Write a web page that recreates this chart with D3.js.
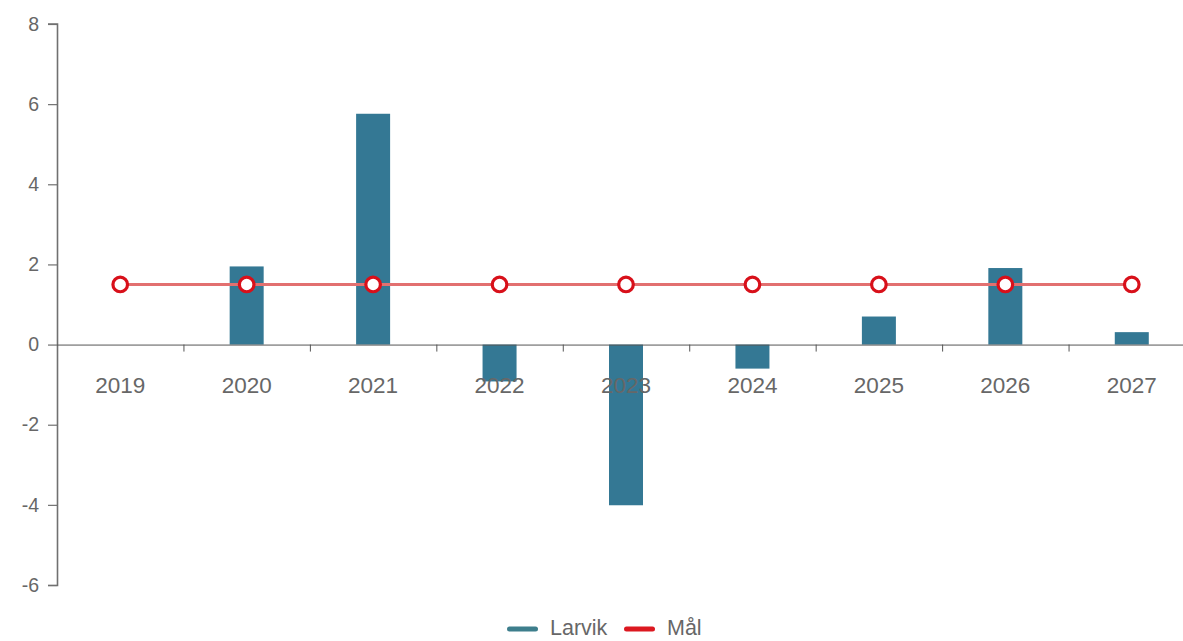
<!DOCTYPE html>
<html><head><meta charset="utf-8">
<script src="https://cdn.jsdelivr.net/npm/d3@7"></script>
<style>body{margin:0;background:#fff;font-family:"Liberation Sans",Arial,sans-serif;}</style>
</head><body><svg id="c" width="1183" height="641"></svg>
<script>
const years = ["2019","2020","2021","2022","2023","2024","2025","2026","2027"];
const larvik = [null,1.95,5.76,-0.92,-4.01,-0.6,0.7,1.91,0.31];
const maal = [1.5,1.5,1.5,1.5,1.5,1.5,1.5,1.5,1.5];
const yTicks = [-6,-4,-2,0,2,4,6,8];
const legendNames = ["Larvik","Mål"];

const svg = d3.select("#c");
const x = d3.scaleBand().domain(years).range([57,1195]);
const y = d3.scaleLinear().domain([-6,8]).range([585,24]);

const barColor = "#347894";
const lineColor = "#e27070";
const ptColor = "#d8101a";
const textColor = "#676767";
const font = "Liberation Sans, Arial, sans-serif";

// y axis
const ya = svg.append("g").attr("transform","translate(57,0)")
  .call(d3.axisLeft(y).tickValues(yTicks).tickSize(9).tickPadding(9).tickFormat(d=>String(d)));
ya.select(".domain").attr("stroke","#707070").attr("stroke-width",1.6).attr("d","M-9,585.5H0.5V24H-9");
ya.selectAll(".tick line").attr("stroke","#707070").attr("stroke-width",1.2);
ya.selectAll(".tick text").attr("fill",textColor).style("font-size","19.5px").style("font-family",font);

// bars
svg.append("g").selectAll("rect").data(years.map((d,i)=>({k:d,v:larvik[i]})).filter(d=>d.v!==null))
  .enter().append("rect")
  .attr("x",d=>x(d.k)+x.bandwidth()/2-17)
  .attr("width",34)
  .attr("y",d=>y(Math.max(0,d.v)))
  .attr("height",d=>Math.abs(y(d.v)-y(0)))
  .attr("fill",barColor);

// x axis at zero
const xa = svg.append("g").attr("transform",`translate(0,${y(0)})`)
  .call(d3.axisBottom(x).tickSize(0).tickPadding(32));
xa.select(".domain").attr("stroke","#555").attr("d","M57,0.5H1195");
xa.selectAll(".tick text").attr("fill",textColor).style("font-size","22.5px").style("font-family",font);
// boundary ticks between categories
svg.append("g").selectAll("line").data(years.slice(1)).enter().append("line")
  .attr("x1",d=>x(d)+0.5).attr("x2",d=>x(d)+0.5)
  .attr("y1",y(0)).attr("y2",y(0)+7).attr("stroke","#555");

// line Mål
const line = d3.line().x((d,i)=>x(years[i])+x.bandwidth()/2).y(d=>y(d));
svg.append("path").datum(maal).attr("d",line).attr("fill","none")
  .attr("stroke",lineColor).attr("stroke-width",3);
svg.append("g").selectAll("circle").data(maal).enter().append("circle")
  .attr("cx",(d,i)=>x(years[i])+x.bandwidth()/2).attr("cy",d=>y(d))
  .attr("r",7.3).attr("fill","#fff").attr("stroke",ptColor).attr("stroke-width",3.2);

// legend
const lg = svg.append("g").attr("transform","translate(0,629)");
const items = [{n:legendNames[0],c:"#3d7e8c",x:507},{n:legendNames[1],c:"#dc1820",x:624}];
items.forEach(it=>{
  lg.append("rect").attr("x",it.x).attr("y",-2.5).attr("width",31).attr("height",5).attr("rx",2.5).attr("fill",it.c);
  lg.append("text").attr("x",it.x+43).attr("y",6).text(it.n).attr("fill",textColor)
    .style("font-size","21.5px").style("font-family",font);
});
</script></body></html>
